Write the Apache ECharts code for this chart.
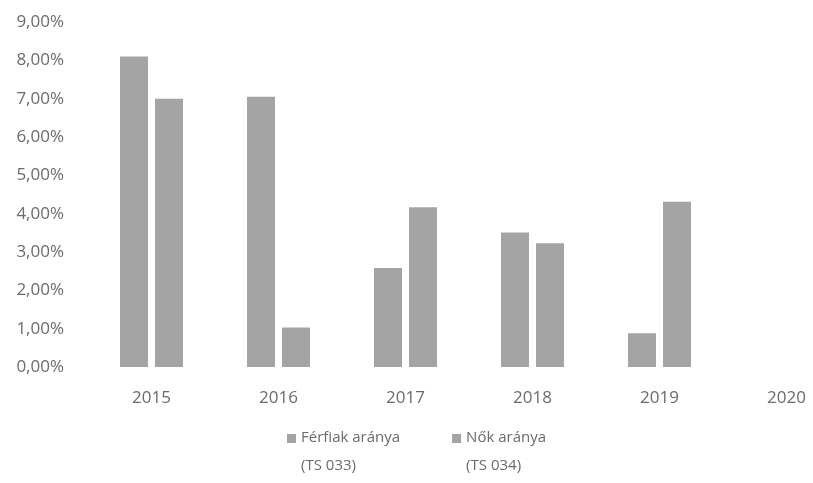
<!DOCTYPE html>
<html>
<head>
<meta charset="utf-8">
<script src="https://cdn.jsdelivr.net/npm/echarts@6/dist/echarts.min.js"></script>
<style>
  html, body { margin: 0; padding: 0; background: #fff; }
  #chart { width: 813px; height: 483px; }
</style>
</head>
<body>
<div id="chart"></div>
<script>
// adatok
const years = ['2015', '2016', '2017', '2018', '2019', '2020']
const ferfiak = [8.1, 7.05, 2.58, 3.51, 0.88, null]
const nok = [7.0, 1.03, 4.17, 3.23, 4.31, null]
const seriesNames = ['Férfiak aránya\n(TS 033)', 'Nők aránya\n(TS 034)']

const chart = echarts.init(document.getElementById('chart'))

const font = '"Open Sans", sans-serif'
const textColor = '#6b6b6b'
const barColor = '#a4a4a4'

const option = {
  animation: false,
  // a rajzterület jobbra túllóg a képen (2020 csak félig látszik)
  grid: { left: 88, right: -37, top: 22, bottom: 116, outerBoundsMode: 'none' },
  legend: {
    left: 282,
    top: 419,
    itemGap: 52,
    itemWidth: 9,
    itemHeight: 36,
    // a négyzet az első sorhoz igazodik
    icon: 'path://M0,0h10v10h-10z M0,40h0.01',
    textStyle: { fontFamily: font, fontSize: 15, color: textColor, lineHeight: 28 },
    data: seriesNames
  },
  xAxis: {
    type: 'category',
    data: years,
    axisLine: { show: false },
    axisTick: { show: false },
    axisLabel: { fontFamily: font, fontSize: 17, color: textColor, margin: 23 }
  },
  yAxis: {
    type: 'value',
    min: 0,
    max: 9,
    interval: 1,
    splitLine: { show: false },
    axisLabel: {
      fontFamily: font,
      fontSize: 17,
      color: textColor,
      margin: 24,
      formatter: v => v.toFixed(2).replace('.', ',') + '%'
    }
  },
  series: [
    {
      name: seriesNames[0],
      type: 'bar',
      barWidth: 28,
      barGap: '25%',
      itemStyle: { color: barColor },
      data: ferfiak
    },
    {
      name: seriesNames[1],
      type: 'bar',
      barWidth: 28,
      itemStyle: { color: barColor },
      data: nok
    }
  ]
}

chart.setOption(option)
</script>
</body>
</html>
